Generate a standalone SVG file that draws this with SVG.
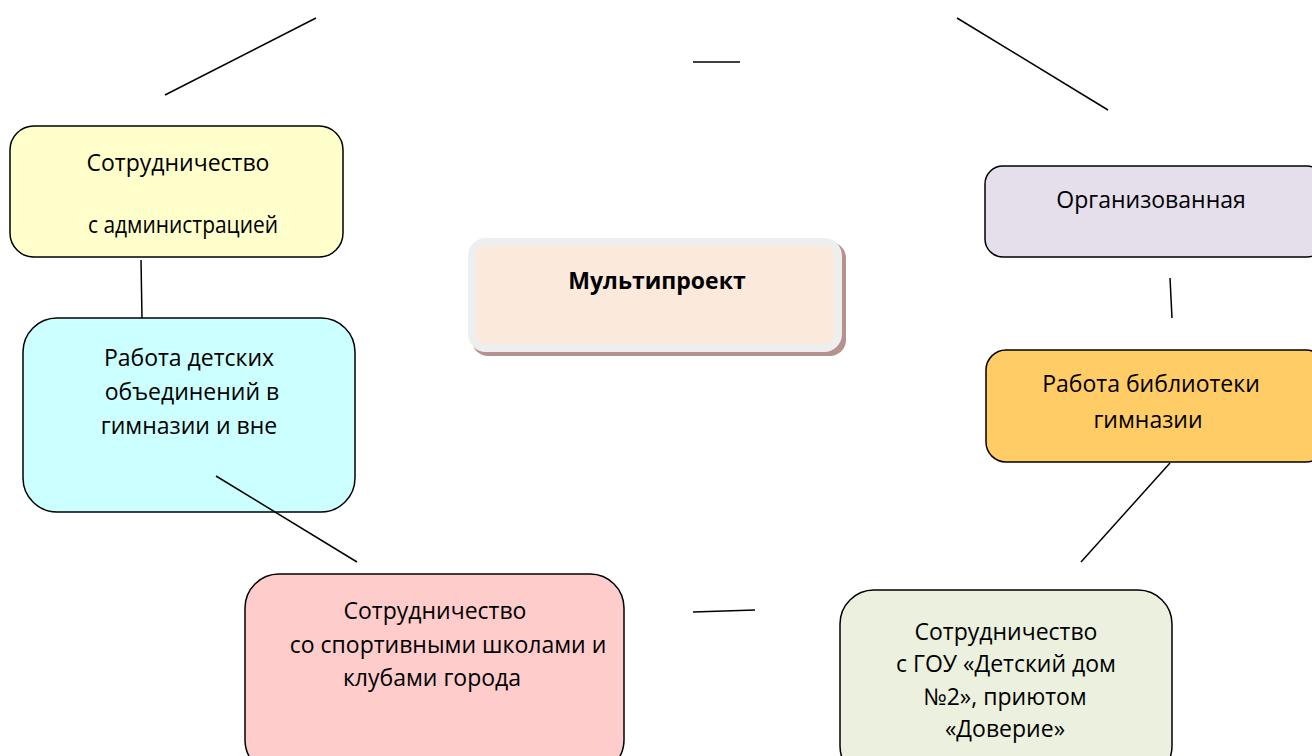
<svg xmlns="http://www.w3.org/2000/svg" width="1312" height="756" viewBox="0 0 1312 756">
<style>
.box{stroke:#000;stroke-width:1.5}
.t{font-family:"Open Sans","Noto Sans","Liberation Sans",sans-serif;font-size:23px;fill:#000;text-anchor:middle}
.ln{stroke:#000;stroke-width:1.5;fill:none}
</style>
<rect width="1312" height="756" fill="#fff"/>
<g id="n-admin">
<rect class="box" x="10" y="126" width="333" height="131" rx="24" fill="#FFFFCC"/>
<text class="t" x="178" y="171">Сотрудничество</text>
<text class="t" x="183" y="233" textLength="190" lengthAdjust="spacingAndGlyphs">с администрацией</text>
</g>
<g id="n-org">
<rect class="box" x="985" y="166" width="340" height="91" rx="18" fill="#E5DFEC"/>
<text class="t" x="1151" y="208">Организованная</text>
</g>
<g id="n-center">
<rect x="472" y="242" width="374" height="114" rx="16" fill="#B59290"/>
<rect x="472" y="242" width="366" height="106" rx="14" fill="#FBE9DB" stroke="#EEEEEE" stroke-width="8"/>
<text class="t" x="657" y="289" font-weight="bold" font-size="24px">Мультипроект</text>
</g>
<g id="n-children">
<rect class="box" x="23" y="318" width="332" height="194" rx="34" fill="#CCFFFF"/>
<text class="t" x="189" y="366">Работа детских</text>
<text class="t" x="192" y="400">объединений в</text>
<text class="t" x="189" y="434">гимназии и вне</text>
</g>
<g id="n-library">
<rect class="box" x="986" y="350" width="340" height="112" rx="20" fill="#FFCC66"/>
<text class="t" x="1151" y="392">Работа библиотеки</text>
<text class="t" x="1148" y="428">гимназии</text>
</g>
<g id="n-sport">
<rect class="box" x="245" y="574" width="379" height="200" rx="34" fill="#FFCCCC"/>
<text class="t" x="435" y="619">Сотрудничество</text>
<text class="t" x="448" y="653">со спортивными школами и</text>
<text class="t" x="432" y="686">клубами города</text>
</g>
<g id="n-orphanage">
<rect class="box" x="840" y="590" width="332" height="190" rx="34" fill="#EBF1DE"/>
<text class="t" x="1006" y="640">Сотрудничество</text>
<text class="t" x="1006" y="672">с ГОУ «Детский дом</text>
<text class="t" x="1005" y="705">№2», приютом</text>
<text class="t" x="1005" y="737">«Доверие»</text>
</g>
<g id="connectors">
<line class="ln" x1="165" y1="95" x2="316" y2="18"/>
<line class="ln" x1="693" y1="62" x2="740" y2="62"/>
<line class="ln" x1="957" y1="18" x2="1108" y2="110"/>
<line class="ln" x1="141" y1="260" x2="142" y2="318"/>
<line class="ln" x1="1170" y1="278" x2="1172" y2="318"/>
<line class="ln" x1="216" y1="476" x2="357" y2="562"/>
<line class="ln" x1="693" y1="612" x2="755" y2="610"/>
<line class="ln" x1="1170" y1="463" x2="1081" y2="562"/>
</g>
</svg>
